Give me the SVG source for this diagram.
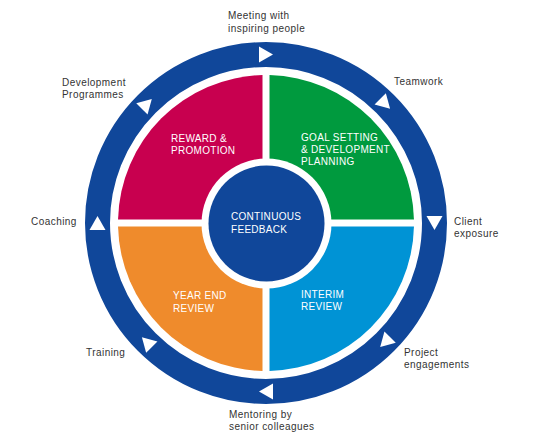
<svg xmlns="http://www.w3.org/2000/svg" width="538" height="448" viewBox="0 0 538 448">
  <style>
    .lbl { font-family: "Liberation Sans", Arial, sans-serif; font-size: 10px; fill: #333333; letter-spacing: 0.45px; }
    .in { font-family: "Liberation Sans", Arial, sans-serif; font-size: 10px; fill: #ffffff; letter-spacing: 0.3px; }
    .arrow { fill: #ffffff; }
  </style>
  <defs>
    <polygon id="tri" class="arrow" points="7,0 -7,-8 -7,8"/>
  </defs>
  <rect x="0" y="0" width="538" height="448" fill="#ffffff"/>

  <g id="connectors">
    <circle id="ring" cx="266" cy="223" r="168.5" fill="none" stroke="#10479A" stroke-width="25"/>
    <use href="#tri" transform="translate(266,54.5) rotate(0)"/>
    <use href="#tri" transform="translate(385.15,103.85) rotate(45)"/>
    <use href="#tri" transform="translate(434.5,223) rotate(90)"/>
    <use href="#tri" transform="translate(385.15,342.15) rotate(135)"/>
    <use href="#tri" transform="translate(266,391.5) rotate(180)"/>
    <use href="#tri" transform="translate(146.85,342.15) rotate(225)"/>
    <use href="#tri" transform="translate(97.5,223) rotate(270)"/>
    <use href="#tri" transform="translate(146.85,103.85) rotate(315)"/>
  </g>

  <g id="reward">
    <path d="M262.5,219.5 L262.5,75.04 A148,148 0 0 0 118.04,219.5 Z" fill="#C8004F"/>
    <text class="in" x="171" y="141.5">REWARD &amp;</text>
    <text class="in" x="171" y="153.5">PROMOTION</text>
  </g>
  <g id="goal">
    <path d="M269.5,219.5 L413.96,219.5 A148,148 0 0 0 269.5,75.04 Z" fill="#009A3E"/>
    <text class="in" x="301" y="140.5">GOAL SETTING</text>
    <text class="in" x="301" y="152.8">&amp; DEVELOPMENT</text>
    <text class="in" x="301" y="165">PLANNING</text>
  </g>
  <g id="interim">
    <path d="M269.5,226.5 L269.5,370.96 A148,148 0 0 0 413.96,226.5 Z" fill="#0093D5"/>
    <text class="in" x="301" y="298.3">INTERIM</text>
    <text class="in" x="301" y="310.3">REVIEW</text>
  </g>
  <g id="yearend">
    <path d="M262.5,226.5 L118.04,226.5 A148,148 0 0 0 262.5,370.96 Z" fill="#EF8B2C"/>
    <text class="in" x="173" y="299.3">YEAR END</text>
    <text class="in" x="173" y="311.6">REVIEW</text>
  </g>
  <g id="feedback">
    <circle cx="266.5" cy="223.5" r="65" fill="#ffffff"/>
    <circle cx="266.5" cy="223.5" r="58" fill="#10479A"/>
    <text class="in" x="231" y="220">CONTINUOUS</text>
    <text class="in" x="231" y="232.6">FEEDBACK</text>
  </g>

  <g id="labels">
    <text class="lbl" x="228" y="19">Meeting with</text>
    <text class="lbl" x="228" y="31.5">inspiring people</text>
    <text class="lbl" x="394" y="85">Teamwork</text>
    <text class="lbl" x="454" y="225">Client</text>
    <text class="lbl" x="454" y="237">exposure</text>
    <text class="lbl" x="404" y="356">Project</text>
    <text class="lbl" x="404" y="368">engagements</text>
    <text class="lbl" x="229" y="418">Mentoring by</text>
    <text class="lbl" x="229" y="430">senior colleagues</text>
    <text class="lbl" x="86" y="356">Training</text>
    <text class="lbl" x="31" y="224.5">Coaching</text>
    <text class="lbl" x="62" y="85.5">Development</text>
    <text class="lbl" x="62" y="97.5">Programmes</text>
  </g>
</svg>
